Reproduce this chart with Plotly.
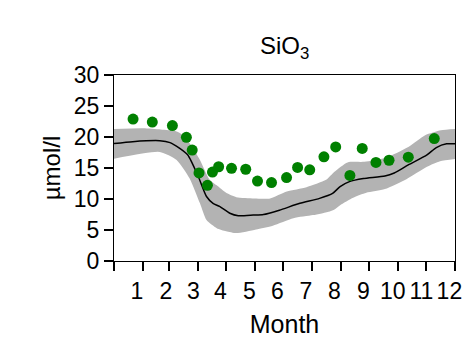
import plotly.graph_objects as go

# ---- data (day of year, µmol/l) ----
obs_day = [20.4, 41, 62.5, 77.5, 83.7, 91, 100, 105.4, 112, 125.8, 141, 153.6,
           168.6, 184.7, 196.5, 209.5, 224.7, 237.3, 252.5, 265.7, 280.4, 294.4, 315, 342.8]
obs_val = [22.9, 22.4, 21.85, 19.95, 17.9, 14.2, 12.2, 14.35, 15.2, 14.95, 14.8, 12.9,
           12.65, 13.45, 15.1, 14.7, 16.8, 18.4, 13.8, 18.15, 15.9, 16.25, 16.75, 19.75]

mean_day = [0, 20, 49, 60, 70, 79, 90, 99, 106, 113, 124, 133, 149, 160, 177, 199,
            220, 234, 242, 252, 267, 290, 300, 315, 335, 345, 356, 365]
mean_val = [18.95, 19.25, 19.4, 19.1, 18.2, 17.1, 13.7, 10.4, 9.3, 8.8, 7.7, 7.3, 7.4, 7.5,
            8.2, 9.3, 10.1, 10.9, 12.0, 12.8, 13.3, 13.7, 14.2, 15.5, 17.1, 18.3, 18.9, 18.9]

upper_day = [0, 31, 50, 67, 75, 81, 92, 102, 110, 120, 131, 150, 167, 185, 206, 227,
             236, 250, 268, 290, 315, 333, 350, 365]
upper_val = [21.3, 21.4, 21.2, 20.9, 20.2, 19.0, 16.3, 13.2, 12.2, 11.0, 10.3, 10.1, 10.1,
             11.2, 11.9, 13.1, 14.4, 15.9, 16.0, 16.6, 18.4, 20.3, 21.1, 21.3]

lower_day = [0, 49, 67, 81, 92, 99, 110, 120, 131, 152, 170, 192, 213, 231, 236, 242,
             256, 270, 290, 313, 335, 349, 365]
lower_val = [16.5, 17.6, 16.3, 13.3, 9.3, 6.6, 5.3, 4.8, 4.5, 5.1, 5.7, 6.9, 7.4, 8.0, 8.3,
             9.0, 10.2, 11.0, 11.6, 13.2, 15.2, 16.1, 16.45]

month_edges = [0, 31, 59, 90, 120, 151, 181, 212, 243, 273, 304, 334, 365]
month_label_pos = [24.5, 55.5, 85, 114, 145, 175, 205.5, 236, 267, 298.5, 329, 359]
month_labels = ["1", "2", "3", "4", "5", "6", "7", "8", "9", "10", "11", "12"]
y_ticks = [0, 5, 10, 15, 20, 25, 30]

FONT = "Liberation Sans, Arial, sans-serif"
BAND = "#b3b3b3"

fig = go.Figure()
fig.add_trace(go.Scatter(x=lower_day, y=lower_val, mode="lines",
                         line=dict(width=0, color=BAND, shape="spline", smoothing=0.6),
                         hoverinfo="skip", showlegend=False))
fig.add_trace(go.Scatter(x=upper_day, y=upper_val, mode="lines", fill="tonexty",
                         fillcolor=BAND,
                         line=dict(width=0, color=BAND, shape="spline", smoothing=0.6),
                         hoverinfo="skip", showlegend=False))
fig.add_trace(go.Scatter(x=mean_day, y=mean_val, mode="lines",
                         line=dict(width=1.5, color="black", shape="spline", smoothing=0.6),
                         showlegend=False))
fig.add_trace(go.Scatter(x=obs_day, y=obs_val, mode="markers",
                         marker=dict(size=11, color="#008000", line=dict(width=0)),
                         showlegend=False))

fig.update_layout(
    width=466, height=341,
    margin=dict(l=114, r=11, t=75, b=80),
    paper_bgcolor="white", plot_bgcolor="white",
    font=dict(family=FONT, color="black", size=23),
    title=dict(text="SiO<sub>3</sub>", x=0.611, xanchor="center", y=0.865, yanchor="middle",
               font=dict(family=FONT, size=24, color="black")),
    xaxis=dict(range=[0, 365], showgrid=False, zeroline=False, automargin=False,
               showline=True, linecolor="black", linewidth=1.3, mirror=True,
               tickmode="array", tickvals=month_label_pos, ticktext=month_labels,
               tickangle=0,
               ticks="outside", ticklen=9, tickcolor="rgba(0,0,0,0)", tickfont=dict(size=23),
               minor=dict(tickmode="array", tickvals=month_edges, ticks="outside",
                          ticklen=9, tickwidth=1.5, tickcolor="black", showgrid=False),
               title=dict(text="Month", font=dict(size=25), standoff=12)),
    yaxis=dict(range=[0, 30], showgrid=False, zeroline=False, automargin=False,
               showline=True, linecolor="black", linewidth=1.3, mirror=True,
               tickmode="array", tickvals=y_ticks, ticks="outside", ticklen=9,
               tickwidth=1.5, tickcolor="black", tickfont=dict(size=23),
               title=dict(text="µmol/l", font=dict(size=24), standoff=6)),
)

fig.write_html("out.html", config={"displayModeBar": False},
               post_script="document.body.style.margin='0';")
